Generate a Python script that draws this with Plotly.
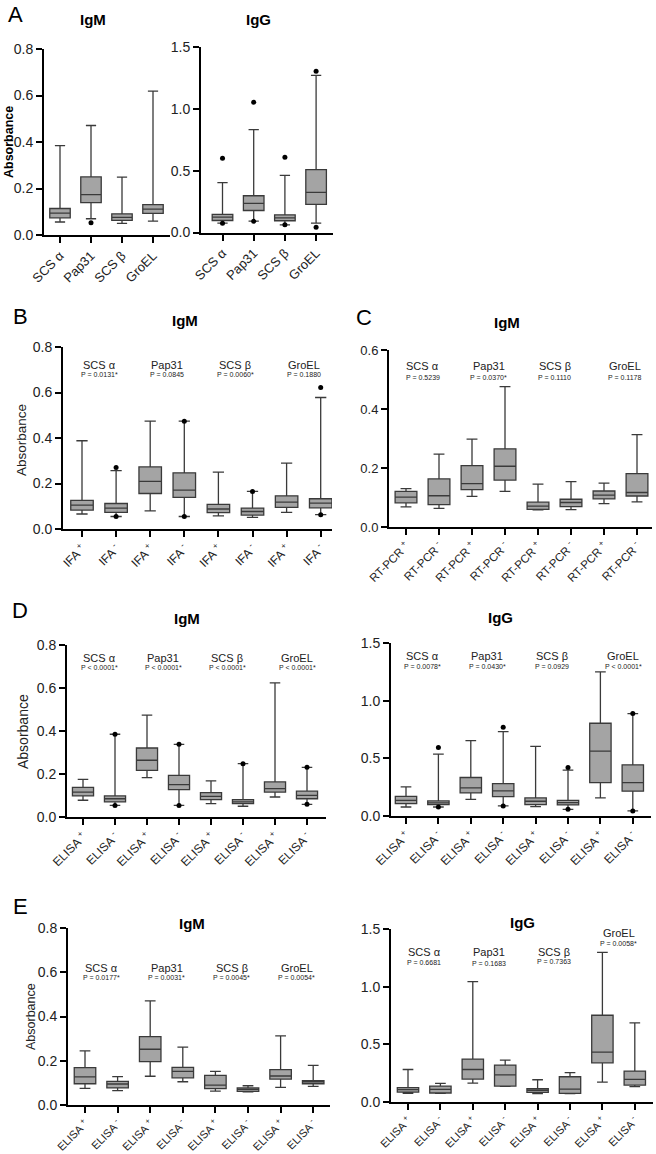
import plotly.graph_objects as go

W, H = 656, 1154

# ---------------- DATA ----------------
antigens = ["SCS α", "Pap31", "SCS β", "GroEL"]

# Panel A - IgM (all sera)
a_igm_low = [0.056, 0.070, 0.050, 0.060]
a_igm_q1 = [0.074, 0.139, 0.063, 0.093]
a_igm_med = [0.094, 0.174, 0.076, 0.111]
a_igm_q3 = [0.114, 0.250, 0.091, 0.131]
a_igm_high = [0.384, 0.471, 0.249, 0.619]
a_igm_out_x = [1]
a_igm_out_y = [0.053]

# Panel A - IgG
a_igg_low = [0.076, 0.092, 0.062, 0.076]
a_igg_q1 = [0.097, 0.178, 0.095, 0.227]
a_igg_med = [0.124, 0.235, 0.119, 0.324]
a_igg_q3 = [0.146, 0.297, 0.143, 0.508]
a_igg_high = [0.403, 0.832, 0.462, 1.270]
a_igg_out_x = [0, 0, 1, 1, 2, 2, 3, 3]
a_igg_out_y = [0.600, 0.075, 1.054, 0.090, 0.608, 0.062, 1.303, 0.043]

# Panel B - IgM by IFA
b_labels = ["IFA <sup>+</sup>", "IFA <sup>-</sup>"] * 4
b_low = [0.066, 0.055, 0.080, 0.055, 0.058, 0.051, 0.073, 0.063]
b_q1 = [0.083, 0.073, 0.156, 0.139, 0.072, 0.061, 0.095, 0.093]
b_med = [0.105, 0.092, 0.209, 0.171, 0.088, 0.077, 0.118, 0.114]
b_q3 = [0.126, 0.112, 0.273, 0.247, 0.108, 0.092, 0.146, 0.133]
b_high = [0.388, 0.257, 0.474, 0.474, 0.250, 0.165, 0.290, 0.578]
b_out_x = [1, 1, 3, 3, 5, 7, 7]
b_out_y = [0.270, 0.055, 0.474, 0.055, 0.165, 0.622, 0.063]
b_pvals = ["P = 0.0131*", "P = 0.0845", "P = 0.0060*", "P = 0.1880"]

# Panel C - IgM by RT-PCR
c_labels = ["RT-PCR <sup>+</sup>", "RT-PCR <sup>-</sup>"] * 4
c_low = [0.068, 0.063, 0.104, 0.121, 0.058, 0.059, 0.079, 0.085]
c_q1 = [0.082, 0.076, 0.127, 0.159, 0.060, 0.069, 0.095, 0.105]
c_med = [0.101, 0.106, 0.147, 0.206, 0.071, 0.083, 0.108, 0.117]
c_q3 = [0.121, 0.163, 0.208, 0.265, 0.084, 0.094, 0.122, 0.181]
c_high = [0.130, 0.247, 0.298, 0.476, 0.145, 0.154, 0.149, 0.313]
c_pvals = ["P = 0.5239", "P = 0.0370*", "P = 0.1110", "P = 0.1178"]

elisa_labels = ["ELISA <sup>+</sup>", "ELISA <sup>-</sup>"] * 4

# Panel D - IgM by ELISA
d_igm_low = [0.078, 0.054, 0.183, 0.054, 0.062, 0.050, 0.093, 0.059]
d_igm_q1 = [0.098, 0.070, 0.217, 0.127, 0.081, 0.062, 0.116, 0.085]
d_igm_med = [0.116, 0.085, 0.264, 0.151, 0.096, 0.070, 0.132, 0.101]
d_igm_q3 = [0.138, 0.098, 0.321, 0.194, 0.113, 0.081, 0.163, 0.120]
d_igm_high = [0.175, 0.385, 0.474, 0.338, 0.168, 0.248, 0.624, 0.231]
d_igm_out_x = [1, 1, 3, 3, 5, 7, 7]
d_igm_out_y = [0.385, 0.054, 0.338, 0.054, 0.248, 0.231, 0.059]
d_igm_pvals = ["P < 0.0001*", "P < 0.0001*", "P < 0.0001*", "P < 0.0001*"]

# Panel D - IgG by ELISA
d_igg_low = [0.078, 0.078, 0.145, 0.087, 0.081, 0.058, 0.157, 0.044]
d_igg_q1 = [0.107, 0.099, 0.200, 0.168, 0.099, 0.096, 0.290, 0.215]
d_igg_med = [0.136, 0.113, 0.244, 0.218, 0.128, 0.116, 0.563, 0.290]
d_igg_q3 = [0.171, 0.131, 0.334, 0.281, 0.157, 0.136, 0.804, 0.444]
d_igg_high = [0.252, 0.537, 0.653, 0.731, 0.603, 0.397, 1.250, 0.888]
d_igg_out_x = [1, 1, 3, 3, 5, 5, 7, 7]
d_igg_out_y = [0.595, 0.078, 0.769, 0.087, 0.420, 0.058, 0.888, 0.044]
d_igg_pvals = ["P = 0.0078*", "P = 0.0430*", "P = 0.0929", "P < 0.0001*"]

# Panel E - IgM by ELISA
e_igm_low = [0.075, 0.065, 0.130, 0.105, 0.063, 0.060, 0.080, 0.084]
e_igm_q1 = [0.096, 0.077, 0.196, 0.123, 0.074, 0.062, 0.117, 0.096]
e_igm_med = [0.127, 0.095, 0.252, 0.152, 0.090, 0.071, 0.131, 0.105]
e_igm_q3 = [0.169, 0.107, 0.309, 0.170, 0.134, 0.077, 0.160, 0.110]
e_igm_high = [0.245, 0.128, 0.471, 0.262, 0.152, 0.087, 0.312, 0.179]
e_igm_pvals = ["P = 0.0177*", "P = 0.0031*", "P = 0.0045*", "P = 0.0054*"]

# Panel E - IgG by ELISA
e_igg_low = [0.075, 0.075, 0.164, 0.135, 0.072, 0.072, 0.173, 0.133]
e_igg_q1 = [0.086, 0.078, 0.199, 0.138, 0.084, 0.075, 0.340, 0.147]
e_igg_med = [0.107, 0.110, 0.282, 0.236, 0.101, 0.112, 0.432, 0.196]
e_igg_q3 = [0.124, 0.138, 0.372, 0.320, 0.115, 0.219, 0.752, 0.268]
e_igg_high = [0.282, 0.161, 1.043, 0.363, 0.193, 0.254, 1.297, 0.686]
e_igg_pvals = ["P = 0.6681", "P = 0.1683", "P = 0.7363", "P = 0.0058*"]

# ---------------- STYLE ----------------
FONT = "Liberation Sans, Arial, sans-serif"
BOX_FILL = "#a4a4a4"
BOX_LINE = "#3a3a3a"
TXT = "#222222"

fig = go.Figure()
layout = dict(
    template="none",
    width=W, height=H,
    margin=dict(l=0, r=0, t=0, b=0, pad=0),
    paper_bgcolor="white", plot_bgcolor="white",
    showlegend=False,
    font=dict(family=FONT, color="black"),
)
annotations = []


def px_x(p):
    return p / W


def px_y(p):
    return 1 - p / H


def add_panel(k, labels, low, q1, med, q3, high, geo, out_x=None, out_y=None,
              tick_size=14, xlab_size=11):
    x0, x1, t0, sp, ytop, ybot, ymax, dtick = geo
    n = len(low)
    pos = list(range(n))
    xa = "x" if k == 1 else f"x{k}"
    ya = "y" if k == 1 else f"y{k}"
    fig.add_trace(go.Box(
        x=pos, q1=q1, median=med, q3=q3, lowerfence=low, upperfence=high,
        xaxis=xa, yaxis=ya, width=0.66, whiskerwidth=0.5,
        fillcolor=BOX_FILL, line=dict(color=BOX_LINE, width=1.3),
        boxpoints=False, hoverinfo="skip", showlegend=False,
    ))
    if out_x:
        fig.add_trace(go.Scatter(
            x=out_x, y=out_y, mode="markers", xaxis=xa, yaxis=ya,
            marker=dict(color="black", size=5), hoverinfo="skip", showlegend=False,
        ))
    xname = "xaxis" if k == 1 else f"xaxis{k}"
    yname = "yaxis" if k == 1 else f"yaxis{k}"
    layout[xname] = dict(
        domain=[px_x(x0), px_x(x1)], anchor=ya, automargin=False,
        range=[(x0 - t0) / sp, (x1 - t0) / sp],
        tickmode="array", tickvals=pos, ticktext=labels, tickangle=-45,
        showline=True, linecolor="black", linewidth=2,
        ticks="outside", ticklen=6, tickwidth=1.8, tickcolor="black",
        showgrid=False, zeroline=False,
        tickfont=dict(size=xlab_size, family=FONT, color=TXT),
    )
    layout[yname] = dict(
        domain=[px_y(ybot), px_y(ytop)], anchor=xa, automargin=False,
        range=[0, ymax], dtick=dtick, tick0=0, tickformat=".1f",
        showline=True, linecolor="black", linewidth=2,
        ticks="outside", ticklen=6, tickwidth=1.8, tickcolor="black",
        showgrid=False, zeroline=False,
        tickfont=dict(size=tick_size, family=FONT, color=TXT),
    )
    return xa


def text(x, y, s, size, bold=False, xref="paper", angle=0, color="black"):
    annotations.append(dict(
        x=x, y=y, xref=xref, yref="paper", text=f"<b>{s}</b>" if bold else s,
        showarrow=False, xanchor="center", yanchor="middle", textangle=angle,
        font=dict(size=size, family=FONT, color=color),
    ))


def group_labels(xa, pvals, y_name, y_p, offsets=(0, 0, 0, 0), y_names=None, y_ps=None):
    for i, (ag, pv) in enumerate(zip(antigens, pvals)):
        xc = 2 * i + 0.5 + offsets[i]
        yn = y_names[i] if y_names else y_name
        yp = y_ps[i] if y_ps else y_p
        text(xc, px_y(yn), ag, 11, xref=xa, color=TXT)
        text(xc, px_y(yp), pv, 7, xref=xa, color=TXT)


# Panel A
add_panel(1, antigens, a_igm_low, a_igm_q1, a_igm_med, a_igm_q3, a_igm_high,
          (44, 170, 60, 31, 49, 235, 0.8, 0.2), a_igm_out_x, a_igm_out_y, 14, 13)
add_panel(2, antigens, a_igg_low, a_igg_q1, a_igg_med, a_igg_q3, a_igg_high,
          (201, 333, 222.5, 31.2, 47, 232.5, 1.5, 0.5), a_igg_out_x, a_igg_out_y, 14, 13)
text(px_x(15), px_y(14), "A", 22)
text(px_x(93), px_y(20), "IgM", 15, bold=True)
text(px_x(258), px_y(20), "IgG", 15, bold=True)
text(px_x(9), px_y(142), "Absorbance", 12.5, bold=True, angle=-90)

# Panel B
xb = add_panel(3, b_labels, b_low, b_q1, b_med, b_q3, b_high,
               (63, 332, 82, 34.1, 347, 529, 0.8, 0.2), b_out_x, b_out_y, 14, 12)
text(px_x(20), px_y(316), "B", 22)
text(px_x(185), px_y(320), "IgM", 15, bold=True)
text(px_x(21), px_y(440), "Absorbance", 13.5, angle=-90, color=TXT)
group_labels(xb, b_pvals, 365, 375)

# Panel C
xc = add_panel(4, c_labels, c_low, c_q1, c_med, c_q3, c_high,
               (389, 652, 406, 33.0, 350, 527, 0.6, 0.2), None, None, 13, 11.5)
text(px_x(364), px_y(317), "C", 22)
text(px_x(507), px_y(322), "IgM", 15, bold=True)
group_labels(xc, c_pvals, 366, 377, offsets=(0, 0, 0, 0.15))

# Panel D
xd1 = add_panel(5, elisa_labels, d_igm_low, d_igm_q1, d_igm_med, d_igm_q3, d_igm_high,
                (67, 326, 83, 32.0, 645, 817, 0.8, 0.2), d_igm_out_x, d_igm_out_y, 14, 12)
xd2 = add_panel(6, elisa_labels, d_igg_low, d_igg_q1, d_igg_med, d_igg_q3, d_igg_high,
                (391, 651, 406, 32.4, 643, 816, 1.5, 0.5), d_igg_out_x, d_igg_out_y, 14, 12)
text(px_x(20), px_y(610), "D", 22)
text(px_x(187), px_y(618), "IgM", 15, bold=True)
text(px_x(500), px_y(617), "IgG", 15, bold=True)
text(px_x(23), px_y(732), "Absorbance", 14, angle=-90, color=TXT)
group_labels(xd1, d_igm_pvals, 658, 667, offsets=(0, 0, 0, 0.2))
group_labels(xd2, d_igg_pvals, 656, 666, offsets=(0, 0, 0, 0.2))

# Panel E
xe1 = add_panel(7, elisa_labels, e_igm_low, e_igm_q1, e_igm_med, e_igm_q3, e_igm_high,
                (68, 330, 85, 32.6, 928, 1105, 0.8, 0.2), None, None, 14, 11)
xe2 = add_panel(8, elisa_labels, e_igg_low, e_igg_q1, e_igg_med, e_igg_q3, e_igg_high,
                (391, 653, 408, 32.4, 929, 1102, 1.5, 0.5), None, None, 14, 11)
text(px_x(20), px_y(906), "E", 22)
text(px_x(192), px_y(923), "IgM", 15, bold=True)
text(px_x(522), px_y(922), "IgG", 15, bold=True)
text(px_x(31), px_y(1017), "Absorbance", 12.5, angle=-90, color=TXT)
group_labels(xe1, e_igm_pvals, 968, 977)
group_labels(xe2, e_igg_pvals, 952, 962,
             y_names=[952, 952, 952, 933], y_ps=[962, 963, 961, 943])

layout["annotations"] = annotations
fig.update_layout(**layout)
fig.write_html(
    "out.html",
    config={"displayModeBar": False},
    post_script="document.body.style.margin='0';document.body.style.overflow='hidden';",
)
